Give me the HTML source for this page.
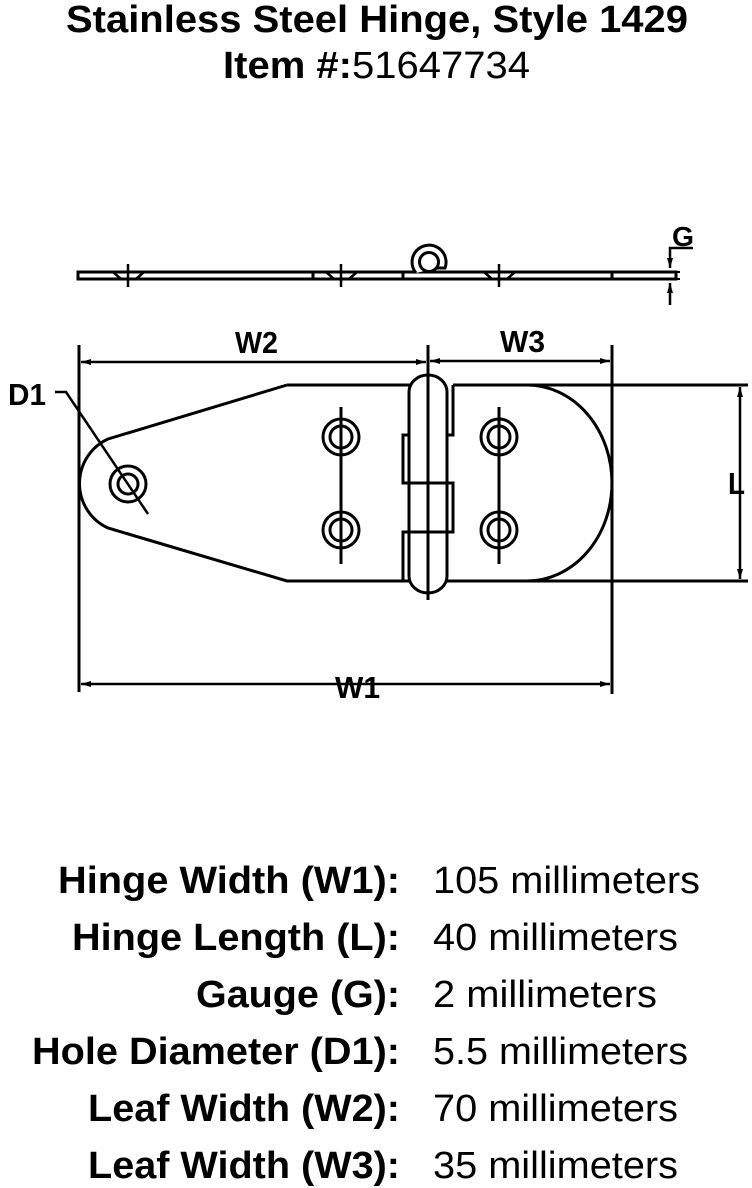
<!DOCTYPE html>
<html><head><meta charset="utf-8"><style>
html,body{margin:0;padding:0;background:#fff;}
svg{display:block;}
text{font-family:"Liberation Sans",Arial,sans-serif;fill:#000;}
.b{font-weight:bold;}
</style></head><body>
<svg width="752" height="1188" viewBox="0 0 752 1188" xmlns="http://www.w3.org/2000/svg">
<defs>
<marker id="a" markerWidth="10" markerHeight="6" refX="10" refY="3" orient="auto" markerUnits="userSpaceOnUse"><path d="M0,0 L10,3 L0,6 z" fill="#000"/></marker>
<marker id="as" markerWidth="10" markerHeight="6" refX="0" refY="3" orient="auto" markerUnits="userSpaceOnUse"><path d="M10,0 L0,3 L10,6 z" fill="#000"/></marker>
</defs>
<!-- Title -->
<text x="66" y="32" class="b" font-size="38" textLength="622" lengthAdjust="spacingAndGlyphs">Stainless Steel Hinge, Style 1429</text>
<text x="223" y="78" class="b" font-size="38" textLength="307" lengthAdjust="spacingAndGlyphs">Item #:<tspan font-weight="normal">51647734</tspan></text>

<g stroke="#000" stroke-width="3" fill="none">
<!-- side view bar -->
<rect x="78" y="272" width="598" height="7" fill="#fff"/>
<line x1="313" y1="272" x2="313" y2="279"/>
<line x1="403" y1="272" x2="403" y2="279"/>
<line x1="612" y1="272" x2="612" y2="279"/>
<!-- countersinks -->
<path d="M113,272 L121,279 L136,279 L144,272" stroke-width="2.5"/>
<path d="M326,272 L334,279 L349,279 L357,272" stroke-width="2.5"/>
<path d="M484,272 L492,279 L507,279 L515,272" stroke-width="2.5"/>
<line x1="128" y1="264" x2="128" y2="287" stroke-width="2.5"/>
<line x1="341" y1="264" x2="341" y2="287" stroke-width="2.5"/>
<line x1="499" y1="264" x2="499" y2="287" stroke-width="2.5"/>
<!-- loop -->
<path d="M416,273 A17,17 0 1 1 445,268 L437,268" fill="#fff"/>
<circle cx="429" cy="262" r="9.5"/>
<!-- G dim -->
<polyline points="693,248 670,248 670,268" stroke-width="2.5" marker-end="url(#a)"/>
<line x1="670" y1="305" x2="670" y2="283" stroke-width="2.5" marker-end="url(#a)"/>
<line x1="664" y1="272" x2="680" y2="272" stroke-width="2"/>
<line x1="664" y1="279" x2="680" y2="279" stroke-width="2"/>

<!-- extension lines -->
<line x1="79" y1="345" x2="79" y2="692"/>
<line x1="612" y1="345" x2="612" y2="694"/>
<line x1="428" y1="345" x2="428" y2="600"/>
<!-- W2/W3 dims -->
<line x1="81" y1="362" x2="426" y2="362" stroke-width="2.5" marker-start="url(#as)" marker-end="url(#a)"/>
<line x1="430" y1="361" x2="610" y2="361" stroke-width="2.5" marker-start="url(#as)" marker-end="url(#a)"/>
<!-- W1 dim -->
<line x1="81" y1="684" x2="610" y2="684" stroke-width="2.5" marker-start="url(#as)" marker-end="url(#a)"/>
<!-- L dim -->
<line x1="455" y1="385" x2="748" y2="385"/>
<line x1="455" y1="581" x2="748" y2="581"/>
<line x1="740" y1="387" x2="740" y2="579" stroke-width="2.5" marker-start="url(#as)" marker-end="url(#a)"/>

<!-- left leaf -->
<path d="M287,385 L108,439 A49,49 0 0 0 108,528 L287,581 L403,581" fill="#fff"/>
<line x1="287" y1="385" x2="410" y2="385"/>
<circle cx="128" cy="484" r="18"/>
<circle cx="128" cy="484" r="10"/>
<polyline points="55,392 66,392 148,514" stroke-width="2.5"/>
<circle cx="341" cy="437" r="18"/>
<circle cx="341" cy="437" r="11"/>
<circle cx="341" cy="530" r="18"/>
<circle cx="341" cy="530" r="11"/>
<line x1="341" y1="407" x2="341" y2="564"/>

<!-- right leaf -->
<path d="M453,385 L527,385 A85,98 0 0 1 527,581 L447,581"/>
<circle cx="499" cy="437" r="18"/>
<circle cx="499" cy="437" r="11"/>
<circle cx="499" cy="530" r="18"/>
<circle cx="499" cy="530" r="11"/>
<line x1="499" y1="407" x2="499" y2="564"/>

<!-- knuckles -->
<polyline points="453,385 453,435 447,435"/>
<polyline points="409,435 403,435 403,483 453,483 453,532 403,532 403,581 409,581"/>
<path d="M409,392 A19,17 0 0 1 447,392 L447,576 A19,17 0 0 1 409,576 Z"/>
<line x1="409" y1="483" x2="447" y2="483"/>
<line x1="409" y1="532" x2="447" y2="532"/>
<line x1="428" y1="345" x2="428" y2="600"/>
</g>

<!-- diagram labels -->
<text x="235" y="353" class="b" font-size="31" textLength="43" lengthAdjust="spacingAndGlyphs">W2</text>
<text x="500" y="352" class="b" font-size="31" textLength="45" lengthAdjust="spacingAndGlyphs">W3</text>
<text x="672" y="246" class="b" font-size="28" textLength="22" lengthAdjust="spacingAndGlyphs">G</text>
<text x="8" y="405" class="b" font-size="31" textLength="38" lengthAdjust="spacingAndGlyphs">D1</text>
<text x="728" y="494" class="b" font-size="31" textLength="17" lengthAdjust="spacingAndGlyphs">L</text>
<text x="335" y="698" class="b" font-size="31" textLength="45" lengthAdjust="spacingAndGlyphs">W1</text>

<!-- table -->
<g font-size="38">
<text x="58" y="893" class="b" textLength="342" lengthAdjust="spacingAndGlyphs">Hinge Width (W1):</text>
<text x="433" y="893" textLength="267" lengthAdjust="spacingAndGlyphs">105 millimeters</text>
<text x="72" y="950" class="b" textLength="328" lengthAdjust="spacingAndGlyphs">Hinge Length (L):</text>
<text x="433" y="950" textLength="245" lengthAdjust="spacingAndGlyphs">40 millimeters</text>
<text x="196" y="1007" class="b" textLength="204" lengthAdjust="spacingAndGlyphs">Gauge (G):</text>
<text x="433" y="1007" textLength="224" lengthAdjust="spacingAndGlyphs">2 millimeters</text>
<text x="32" y="1064" class="b" textLength="368" lengthAdjust="spacingAndGlyphs">Hole Diameter (D1):</text>
<text x="433" y="1064" textLength="255" lengthAdjust="spacingAndGlyphs">5.5 millimeters</text>
<text x="88" y="1121" class="b" textLength="312" lengthAdjust="spacingAndGlyphs">Leaf Width (W2):</text>
<text x="433" y="1121" textLength="245" lengthAdjust="spacingAndGlyphs">70 millimeters</text>
<text x="88" y="1178" class="b" textLength="312" lengthAdjust="spacingAndGlyphs">Leaf Width (W3):</text>
<text x="433" y="1178" textLength="245" lengthAdjust="spacingAndGlyphs">35 millimeters</text>
</g>
</svg>
</body></html>
